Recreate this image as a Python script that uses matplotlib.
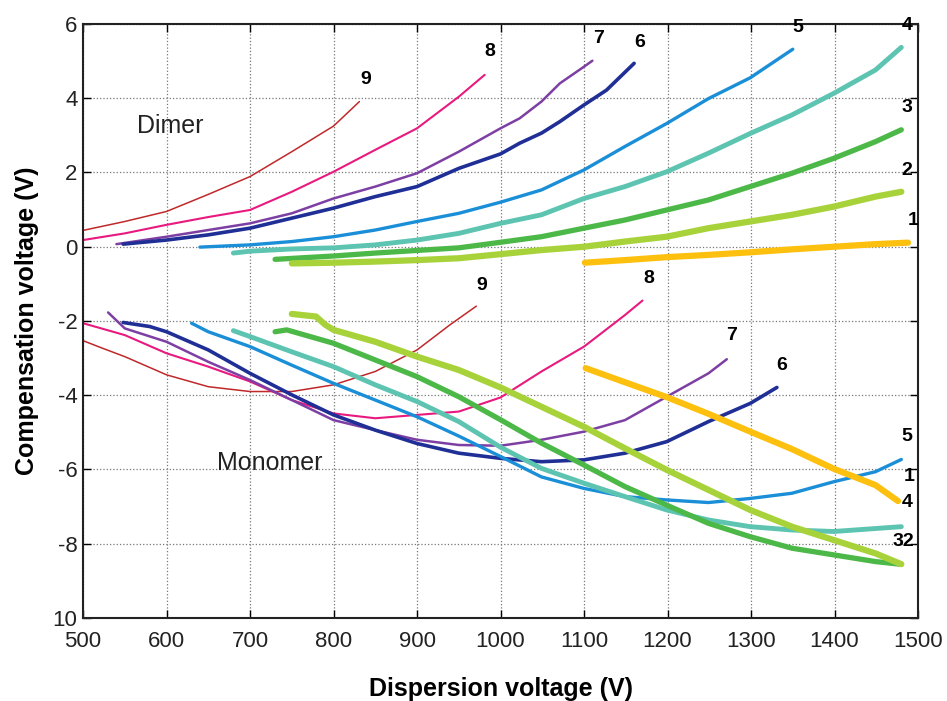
import numpy as np
import matplotlib
matplotlib.use("Agg")
import matplotlib.pyplot as plt

plt.rcParams["font.family"] = ["Liberation Sans", "DejaVu Sans"]

# dimer branches (dispersion voltage, compensation voltage)
dimer_x = {
    9: [500, 550, 600, 650, 700, 750, 800, 831],
    8: [500, 550, 600, 650, 700, 750, 800, 850, 900, 950, 981],
    7: [540, 600, 650, 700, 750, 800, 850, 900, 950, 1000, 1023, 1049, 1071, 1100, 1110],
    6: [548, 600, 650, 700, 750, 800, 850, 900, 950, 1000, 1023, 1049, 1071, 1100, 1127, 1160],
    5: [640, 700, 750, 800, 850, 900, 950, 1000, 1049, 1100, 1149, 1199, 1249, 1299, 1350],
    4: [680, 700, 750, 800, 850, 900, 950, 1000, 1049, 1100, 1149, 1199, 1249, 1299, 1349,
        1399, 1449, 1480],
    3: [730, 800, 850, 900, 950, 1000, 1049, 1100, 1149, 1199, 1249, 1299, 1349, 1399, 1449, 1480],
    2: [750, 800, 850, 900, 950, 1000, 1049, 1100, 1149, 1199, 1249, 1299, 1349, 1399, 1449, 1480],
    1: [1101, 1149, 1199, 1249, 1299, 1349, 1399, 1449, 1488],
}
dimer_y = {
    9: [0.44, 0.68, 0.95, 1.41, 1.89, 2.56, 3.25, 3.91],
    8: [0.18, 0.36, 0.59, 0.8, 0.99, 1.48, 2.02, 2.61, 3.19, 4.04, 4.63],
    7: [0.07, 0.27, 0.45, 0.63, 0.9, 1.3, 1.62, 1.98, 2.56, 3.19, 3.46, 3.91, 4.4, 4.85, 5.01],
    6: [0.07, 0.18, 0.32, 0.5, 0.77, 1.04, 1.35, 1.62, 2.11, 2.5, 2.79, 3.06, 3.37, 3.82, 4.22, 4.94],
    5: [-0.01, 0.05, 0.14, 0.27, 0.45, 0.68, 0.9, 1.2, 1.53, 2.07, 2.7, 3.32, 3.99, 4.55, 5.32],
    4: [-0.17, -0.12, -0.06, -0.03, 0.05, 0.18, 0.36, 0.63, 0.86, 1.3, 1.62, 2.02, 2.52, 3.05, 3.55,
        4.13, 4.76, 5.37],
    3: [-0.34, -0.25, -0.17, -0.1, -0.03, 0.12, 0.27, 0.5, 0.72, 0.99, 1.26, 1.62, 1.98, 2.38, 2.83, 3.15],
    2: [-0.45, -0.43, -0.4, -0.36, -0.31, -0.2, -0.09, 0.0, 0.14, 0.27, 0.5, 0.68, 0.86, 1.08, 1.35, 1.48],
    1: [-0.43, -0.36, -0.28, -0.22, -0.15, -0.07, 0.0, 0.07, 0.11],
}

# monomer branches
mono_x = {
    9: [500, 524, 550, 600, 650, 700, 750, 800, 850, 900, 939, 971],
    8: [500, 550, 600, 650, 700, 750, 800, 850, 900, 950, 1000, 1049, 1100, 1149, 1170],
    7: [530, 550, 600, 650, 700, 750, 800, 850, 900, 950, 1000, 1049, 1100, 1149, 1199, 1249, 1271],
    6: [548, 580, 600, 650, 700, 750, 800, 850, 900, 950, 1000, 1049, 1100, 1149, 1199, 1249,
        1299, 1331],
    5: [630, 650, 700, 750, 800, 850, 900, 950, 1000, 1049, 1100, 1149, 1199, 1249, 1299, 1349,
        1399, 1449, 1480],
    4: [680, 700, 750, 800, 850, 900, 950, 1000, 1049, 1100, 1149, 1199, 1249, 1299, 1349, 1399,
        1449, 1480],
    3: [730, 744, 800, 850, 900, 950, 1000, 1049, 1100, 1149, 1199, 1249, 1299, 1349, 1399, 1449, 1478],
    2: [750, 779, 790, 800, 850, 900, 950, 1000, 1049, 1100, 1149, 1199, 1249, 1299, 1349, 1399,
        1449, 1480],
    1: [1102, 1149, 1199, 1249, 1299, 1349, 1399, 1449, 1476],
}
mono_y = {
    9: [-2.53, -2.74, -2.96, -3.45, -3.77, -3.9, -3.9, -3.72, -3.36, -2.78, -2.11, -1.6],
    8: [-2.06, -2.38, -2.87, -3.23, -3.63, -4.13, -4.49, -4.62, -4.53, -4.44, -4.06, -3.36, -2.69,
        -1.84, -1.45],
    7: [-1.77, -2.2, -2.56, -3.1, -3.59, -4.13, -4.67, -4.94, -5.2, -5.34, -5.36, -5.2, -4.98, -4.67,
        -4.04, -3.41, -3.03],
    6: [-2.04, -2.15, -2.29, -2.78, -3.41, -3.99, -4.53, -4.94, -5.3, -5.56, -5.7, -5.79, -5.74, -5.56,
        -5.25, -4.71, -4.22, -3.79],
    5: [-2.06, -2.29, -2.69, -3.19, -3.68, -4.13, -4.58, -5.1, -5.65, -6.2, -6.51, -6.73, -6.82, -6.89,
        -6.78, -6.64, -6.33, -6.06, -5.73],
    4: [-2.26, -2.42, -2.83, -3.23, -3.72, -4.17, -4.71, -5.4, -5.97, -6.37, -6.73, -7.09, -7.36, -7.54,
        -7.63, -7.67, -7.59, -7.54],
    3: [-2.29, -2.24, -2.6, -3.05, -3.5, -4.04, -4.66, -5.29, -5.88, -6.46, -6.96, -7.45, -7.81, -8.12,
        -8.3, -8.48, -8.55],
    2: [-1.81, -1.88, -2.1, -2.24, -2.56, -2.96, -3.32, -3.79, -4.31, -4.85, -5.43, -6.01, -6.55, -7.09,
        -7.54, -7.9, -8.26, -8.55],
    1: [-3.27, -3.65, -4.05, -4.5, -4.98, -5.45, -5.98, -6.42, -6.85],
}

colors = {9: "#c0282a", 8: "#e8197f", 7: "#7d3fa3", 6: "#1f2f96", 5: "#1a8fd8",
          4: "#5cc4b0", 3: "#4cb848", 2: "#a8d23a", 1: "#fdc00f"}
widths = {9: 1.1, 8: 1.5, 7: 1.8, 6: 2.6, 5: 2.4, 4: 3.5, 3: 3.8, 2: 4.5, 1: 4.5}

dimer_labels = {9: (838, 4.5), 8: (987, 5.25), 7: (1117, 5.6), 6: (1167, 5.5),
                5: (1356, 5.9), 4: (1487, 5.95), 3: (1487, 3.75), 2: (1487, 2.05),
                1: (1494, 0.7)}
mono_labels = [("9", 978, -1.05), ("8", 1177, -0.85), ("7", 1277, -2.4),
               ("6", 1337, -3.2), ("5", 1487, -5.12), ("1", 1490, -6.2),
               ("4", 1487, -6.9), ("32", 1482, -7.95)]

xticks = [500, 600, 700, 800, 900, 1000, 1100, 1200, 1300, 1400, 1500]
yticks = [6, 4, 2, 0, -2, -4, -6, -8, -10]
ytick_labels = ["6", "4", "2", "0", "-2", "-4", "-6", "-8", "10"]

fig = plt.figure(figsize=(9.47, 7.01), dpi=100)
ax = fig.add_axes([0.0877, 0.1184, 0.8817, 0.8474])

for k in range(9, 0, -1):
    ax.plot(dimer_x[k], dimer_y[k], color=colors[k], lw=widths[k], solid_capstyle="round",
            solid_joinstyle="round")
    ax.plot(mono_x[k], mono_y[k], color=colors[k], lw=widths[k], solid_capstyle="round",
            solid_joinstyle="round")

for k, (x, y) in dimer_labels.items():
    ax.text(x, y, str(k), fontsize=14, fontweight="bold", ha="center", va="center", clip_on=False)
for s, x, y in mono_labels:
    ax.text(x, y, s, fontsize=14, fontweight="bold", ha="center", va="center", clip_on=False)

ax.text(604, 3.25, "Dimer", fontsize=18, color="#222222", ha="center", va="center")
ax.text(724, -5.83, "Monomer", fontsize=18, color="#222222", ha="center", va="center")

ax.set_xlim(500, 1500)
ax.set_ylim(-10, 6)
ax.set_xticks(xticks)
ax.set_yticks(yticks)
ax.set_yticklabels(ytick_labels)
ax.tick_params(direction="in", length=6, width=1, top=True, right=True,
               labelsize=16, labelcolor="#222222")
ax.tick_params(axis="x", pad=9)
ax.tick_params(axis="y", pad=4)
ax.grid(True, linestyle=":", color="#777777", linewidth=0.9)
for sp in ax.spines.values():
    sp.set_linewidth(1.5)
    sp.set_color("#222222")

ax.set_xlabel("Dispersion voltage (V)", fontsize=18, fontweight="bold", labelpad=18)
ax.set_ylabel("Compensation voltage (V)", fontsize=18, fontweight="bold", labelpad=10)

fig.savefig("out.png", dpi=100)
